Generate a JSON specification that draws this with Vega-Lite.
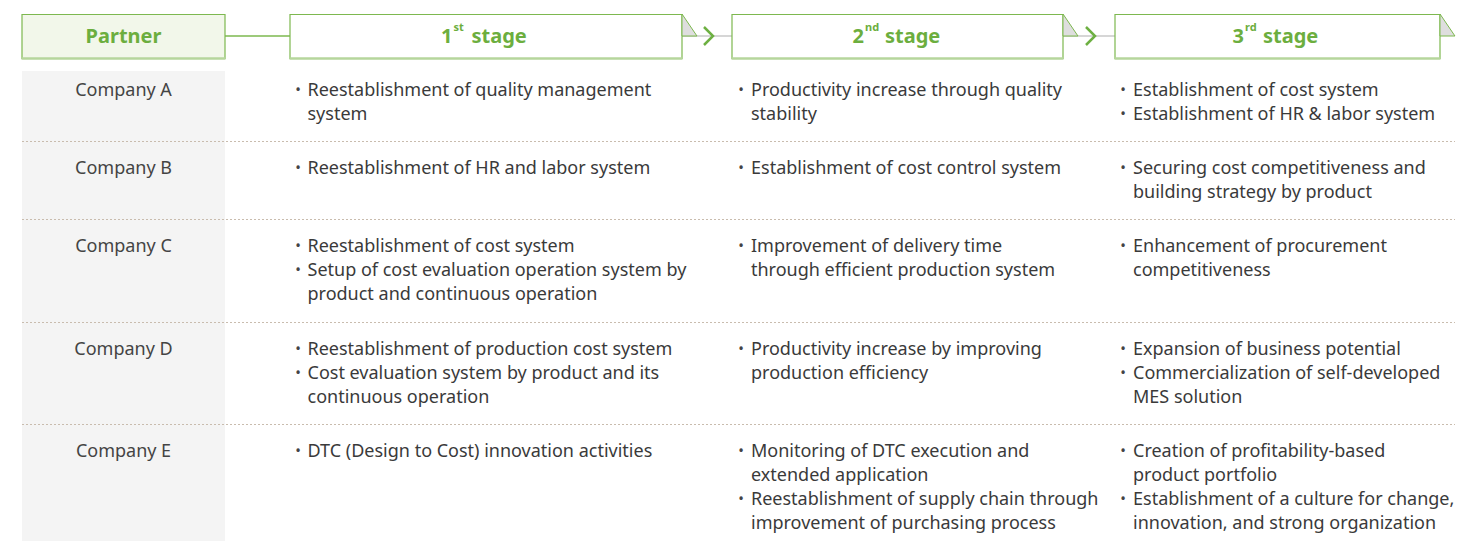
{
 "$schema": "https://vega.github.io/schema/vega-lite/v6.json",
 "width": 1470, "height": 545, "padding": 0, "autosize": {"type": "none"},
 "background": "#ffffff",
 "config": {"view": {"stroke": null}, "text": {"font": "Noto Sans"}},
 "datasets": {
  "header": [
   {"stage": 0, "label": "Partner", "num": "", "sup": "", "word": ""},
   {"stage": 1, "label": "1st stage", "num": "1", "sup": "st", "word": "stage"},
   {"stage": 2, "label": "2nd stage", "num": "2", "sup": "nd", "word": "stage"},
   {"stage": 3, "label": "3rd stage", "num": "3", "sup": "rd", "word": "stage"}
  ],
  "links": [{"from": 0, "to": 1}, {"from": 1, "to": 2}, {"from": 2, "to": 3}],
  "companies": [
   {"company": "Company A", "row": 0}, {"company": "Company B", "row": 1}, {"company": "Company C", "row": 2},
   {"company": "Company D", "row": 3}, {"company": "Company E", "row": 4}
  ],
  "cells": [
   {"row": 0, "stage": 0, "lines": ["Company A"], "bullets": ["\u2800"]},
   {"row": 0, "stage": 1, "lines": ["Reestablishment of quality management", "system"], "bullets": ["•", "\u2800"]},
   {"row": 0, "stage": 2, "lines": ["Productivity increase through quality", "stability"], "bullets": ["•", "\u2800"]},
   {"row": 0, "stage": 3, "lines": ["Establishment of cost system", "Establishment of HR & labor system"], "bullets": ["•", "•"]},
   {"row": 1, "stage": 0, "lines": ["Company B"], "bullets": ["\u2800"]},
   {"row": 1, "stage": 1, "lines": ["Reestablishment of HR and labor system"], "bullets": ["•"]},
   {"row": 1, "stage": 2, "lines": ["Establishment of cost control system"], "bullets": ["•"]},
   {"row": 1, "stage": 3, "lines": ["Securing cost competitiveness and", "building strategy by product"], "bullets": ["•", "\u2800"]},
   {"row": 2, "stage": 0, "lines": ["Company C"], "bullets": ["\u2800"]},
   {"row": 2, "stage": 1, "lines": ["Reestablishment of cost system", "Setup of cost evaluation operation system by", "product and continuous operation"], "bullets": ["•", "•", "\u2800"]},
   {"row": 2, "stage": 2, "lines": ["Improvement of delivery time", "through efficient production system"], "bullets": ["•", "\u2800"]},
   {"row": 2, "stage": 3, "lines": ["Enhancement of procurement", "competitiveness"], "bullets": ["•", "\u2800"]},
   {"row": 3, "stage": 0, "lines": ["Company D"], "bullets": ["\u2800"]},
   {"row": 3, "stage": 1, "lines": ["Reestablishment of production cost system", "Cost evaluation system by product and its", "continuous operation"], "bullets": ["•", "•", "\u2800"]},
   {"row": 3, "stage": 2, "lines": ["Productivity increase by improving", "production efficiency"], "bullets": ["•", "\u2800"]},
   {"row": 3, "stage": 3, "lines": ["Expansion of business potential", "Commercialization of self-developed", "MES solution"], "bullets": ["•", "•", "\u2800"]},
   {"row": 4, "stage": 0, "lines": ["Company E"], "bullets": ["\u2800"]},
   {"row": 4, "stage": 1, "lines": ["DTC (Design to Cost) innovation activities"], "bullets": ["•"]},
   {"row": 4, "stage": 2, "lines": ["Monitoring of DTC execution and", "extended application", "Reestablishment of supply chain through", "improvement of purchasing process"], "bullets": ["•", "\u2800", "•", "\u2800"]},
   {"row": 4, "stage": 3, "lines": ["Creation of profitability-based", "product portfolio", "Establishment of a culture for change,", "innovation, and strong organization"], "bullets": ["•", "\u2800", "•", "\u2800"]}
  ]
 },
 "layer": [
  {
   "data": {"values": [{"part": "Partner column"}]},
   "mark": {"type": "rect", "fill": "#f4f4f4"},
   "encoding": {
    "x": {"datum": 0, "type": "quantitative", "scale": {"domain": [0, 1], "range": [22, 225], "nice": false, "zero": false, "padding": 0}, "axis": null},
    "x2": {"datum": 1},
    "y": {"datum": 0, "type": "quantitative", "scale": {"domain": [0, 1], "range": [71, 541], "nice": false, "zero": false, "padding": 0}, "axis": null},
    "y2": {"datum": 1}
   }
  },
  {
   "data": {"name": "companies"},
   "transform": [{"filter": "datum.row < 4"}],
   "mark": {"type": "rule", "stroke": "#c9bcae", "strokeDash": [2, 2], "strokeWidth": 1},
   "encoding": {
    "y": {"field": "row", "type": "quantitative", "scale": {"domain": [0, 1, 2, 3], "range": [141.5, 219.5, 322.5, 424.5], "nice": false, "zero": false}, "axis": null},
    "x": {"datum": 0, "type": "quantitative", "scale": {"domain": [0, 1], "range": [22, 1455], "nice": false, "zero": false}, "axis": null},
    "x2": {"datum": 1}
   }
  },
  {
   "data": {"name": "links"},
   "mark": {"type": "rule", "strokeWidth": 1.5},
   "encoding": {
    "x": {"field": "from", "type": "quantitative", "scale": {"domain": [0, 1, 2, 3], "range": [123.5, 486, 897.5, 1277.5], "nice": false, "zero": false}, "axis": null},
    "x2": {"field": "to"},
    "y": {"datum": 0, "type": "quantitative", "scale": {"domain": [0, 1], "range": [36, 60], "nice": false, "zero": false}, "axis": null},
    "stroke": {"condition": {"test": "datum.from === 0", "value": "#7db84f"}, "value": "#c8c8c8"}
   }
  },
  {
   "data": {"name": "header"},
   "mark": {"type": "bar", "stroke": "#7db84f", "strokeWidth": 1.2},
   "encoding": {
    "x": {"field": "stage", "type": "quantitative", "scale": {"domain": [0, 1, 2, 3], "range": [123.5, 486, 897.5, 1277.5], "nice": false, "zero": false, "padding": 0}, "axis": null},
    "size": {"field": "stage", "type": "quantitative", "scale": {"domain": [0, 1, 2, 3], "range": [203, 392, 331, 325], "zero": false, "nice": false}, "legend": null},
    "y": {"datum": 0, "type": "quantitative", "scale": {"domain": [0, 1], "range": [14.5, 58.5], "nice": false, "zero": false, "padding": 0}, "axis": null},
    "y2": {"datum": 1},
    "fill": {"condition": {"test": "datum.stage === 0", "value": "#f2f7ea"}, "value": "#ffffff"}
   }
  },
  {
   "data": {"name": "header"},
   "mark": {"type": "bar", "fill": "#b6d69c"},
   "encoding": {
    "x": {"field": "stage", "type": "quantitative", "scale": {"domain": [0, 1, 2, 3], "range": [123.5, 486, 897.5, 1277.5], "nice": false, "zero": false, "padding": 0}, "axis": null},
    "size": {"field": "stage", "type": "quantitative", "scale": {"domain": [0, 1, 2, 3], "range": [204, 393, 332, 326], "zero": false, "nice": false}, "legend": null},
    "y": {"datum": 0.97, "type": "quantitative", "scale": {"domain": [0, 1], "range": [14.5, 58.5], "nice": false, "zero": false, "padding": 0}, "axis": null},
    "y2": {"datum": 1.03}
   }
  },
  {
   "data": {"name": "header"},
   "transform": [{"filter": "datum.stage >= 1"}],
   "mark": {"type": "point", "shape": "M 0 -1 L 1.36 1 L 0 1 Z", "size": 484, "filled": true, "fill": "#dedede", "stroke": "#7db84f", "strokeWidth": 1, "opacity": 1},
   "encoding": {
    "x": {"field": "stage", "type": "quantitative", "scale": {"domain": [1, 2, 3], "range": [682, 1063, 1440], "nice": false, "zero": false}, "axis": null},
    "y": {"datum": 0, "type": "quantitative", "scale": {"domain": [0, 1], "range": [25, 60], "nice": false, "zero": false}, "axis": null}
   }
  },
  {
   "data": {"name": "header"},
   "transform": [{"filter": "datum.stage >= 2"}],
   "mark": {"type": "point", "shape": "M -0.5 -1 L 0.5 0 L -0.5 1", "size": 324, "filled": false, "stroke": "#6db042", "strokeWidth": 2.5, "opacity": 1},
   "encoding": {
    "x": {"field": "stage", "type": "quantitative", "scale": {"domain": [2, 3], "range": [708.5, 1090.5], "nice": false, "zero": false}, "axis": null},
    "y": {"datum": 0, "type": "quantitative", "scale": {"domain": [0, 1], "range": [36, 60], "nice": false, "zero": false}, "axis": null}
   }
  },
  {
   "data": {"name": "header"},
   "transform": [{"filter": "datum.stage === 0"}],
   "mark": {"type": "text", "fontSize": 20, "fontWeight": "bold", "fill": "#6cae3e", "align": "center", "baseline": "alphabetic"},
   "encoding": {
    "x": {"field": "stage", "type": "quantitative", "scale": {"domain": [0, 1, 2, 3], "range": [123.5, 486, 897.5, 1277.5], "nice": false, "zero": false}, "axis": null},
    "y": {"datum": 0, "type": "quantitative", "scale": {"domain": [0, 1], "range": [42.5, 60], "nice": false, "zero": false}, "axis": null},
    "text": {"field": "label"}
   }
  },
  {
   "data": {"name": "header"},
   "transform": [{"filter": "datum.stage >= 1"}],
   "mark": {"type": "text", "fontSize": 20, "fontWeight": "bold", "fill": "#6cae3e", "align": "right", "baseline": "alphabetic"},
   "encoding": {
    "x": {"field": "stage", "type": "quantitative", "scale": {"domain": [1, 2, 3], "range": [452.5, 864, 1244], "nice": false, "zero": false}, "axis": null},
    "y": {"datum": 0, "type": "quantitative", "scale": {"domain": [0, 1], "range": [42.5, 60], "nice": false, "zero": false}, "axis": null},
    "text": {"field": "num"}
   }
  },
  {
   "data": {"name": "header"},
   "transform": [{"filter": "datum.stage >= 1"}],
   "mark": {"type": "text", "fontSize": 11, "fontWeight": "bold", "fill": "#6cae3e", "align": "left", "baseline": "alphabetic"},
   "encoding": {
    "x": {"field": "stage", "type": "quantitative", "scale": {"domain": [1, 2, 3], "range": [453.5, 865, 1245], "nice": false, "zero": false}, "axis": null},
    "y": {"datum": 0, "type": "quantitative", "scale": {"domain": [0, 1], "range": [31, 60], "nice": false, "zero": false}, "axis": null},
    "text": {"field": "sup"}
   }
  },
  {
   "data": {"name": "header"},
   "transform": [{"filter": "datum.stage >= 1"}],
   "mark": {"type": "text", "fontSize": 20, "fontWeight": "bold", "fill": "#6cae3e", "align": "left", "baseline": "alphabetic"},
   "encoding": {
    "x": {"field": "stage", "type": "quantitative", "scale": {"domain": [1, 2, 3], "range": [471.5, 885, 1263], "nice": false, "zero": false}, "axis": null},
    "y": {"datum": 0, "type": "quantitative", "scale": {"domain": [0, 1], "range": [42.5, 60], "nice": false, "zero": false}, "axis": null},
    "text": {"field": "word"}
   }
  },
  {
   "data": {"name": "cells"},
   "transform": [{"filter": "datum.stage === 0"}],
   "mark": {"type": "text", "fontSize": 18, "fill": "#444444", "align": "center", "baseline": "alphabetic", "lineHeight": 24},
   "encoding": {
    "x": {"field": "stage", "type": "quantitative", "scale": {"domain": [0, 1, 2, 3], "range": [123.5, 486, 897.5, 1277.5], "nice": false, "zero": false}, "axis": null},
    "y": {"field": "row", "type": "quantitative", "scale": {"domain": [0, 1, 2, 3, 4], "range": [96, 174, 252, 355, 457], "nice": false, "zero": false}, "axis": null},
    "text": {"field": "lines"}
   }
  },
  {
   "data": {"name": "cells"},
   "transform": [{"filter": "datum.stage > 0"}],
   "mark": {"type": "text", "fontSize": 15, "fill": "#444444", "align": "center", "baseline": "alphabetic", "lineHeight": 24, "dy": -1},
   "encoding": {
    "x": {"field": "stage", "type": "quantitative", "scale": {"domain": [1, 2, 3], "range": [298, 741, 1123], "nice": false, "zero": false}, "axis": null},
    "y": {"field": "row", "type": "quantitative", "scale": {"domain": [0, 1, 2, 3, 4], "range": [96, 174, 252, 355, 457], "nice": false, "zero": false}, "axis": null},
    "text": {"field": "bullets"}
   }
  },
  {
   "data": {"name": "cells"},
   "transform": [{"filter": "datum.stage > 0"}],
   "mark": {"type": "text", "fontSize": 18, "fill": "#3a3a3a", "align": "left", "baseline": "alphabetic", "lineHeight": 24},
   "encoding": {
    "x": {"field": "stage", "type": "quantitative", "scale": {"domain": [1, 2, 3], "range": [307.5, 751, 1133], "nice": false, "zero": false}, "axis": null},
    "y": {"field": "row", "type": "quantitative", "scale": {"domain": [0, 1, 2, 3, 4], "range": [96, 174, 252, 355, 457], "nice": false, "zero": false}, "axis": null},
    "text": {"field": "lines"}
   }
  }
 ],
 "resolve": {"scale": {"x": "independent", "y": "independent", "size": "independent"}}
}
